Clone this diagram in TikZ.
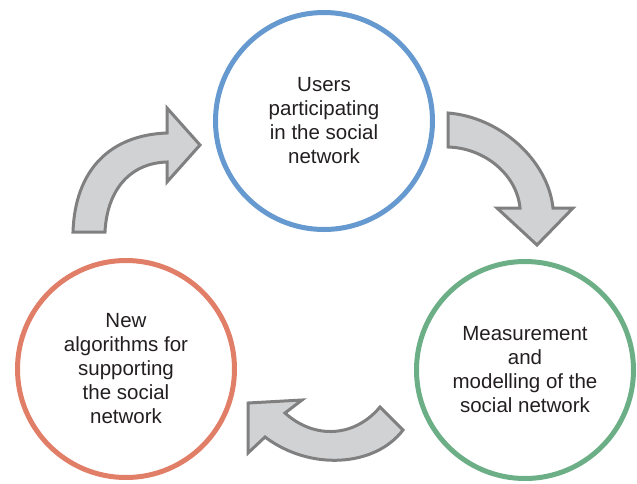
\documentclass[tikz,border=0pt]{standalone}
\usepackage{fontspec}
\setmainfont{Liberation Sans}
\usetikzlibrary{positioning}

\definecolor{userblue}{RGB}{102,153,207}
\definecolor{modelgreen}{RGB}{108,175,134}
\definecolor{algored}{RGB}{225,126,104}
\definecolor{arrowfill}{RGB}{209,210,212}
\definecolor{arrowline}{RGB}{128,128,128}
\definecolor{textdark}{RGB}{35,31,32}

\begin{document}
\begin{tikzpicture}[x=1pt, y=-1pt,
    stage/.style={circle, draw, line width=5pt, minimum size=217pt, inner sep=0pt,
        align=center, text=textdark, font=\fontsize{20.5}{24}\selectfont},
    bigarrow/.style={fill=arrowfill, draw=arrowline, line width=3pt}]
\useasboundingbox (0,0) rectangle (637,483);

% The three stages of the cycle
\node[stage, draw=userblue] (users) at (324,121) {Users\\participating\\in the social\\network};
\node[stage, draw=modelgreen] (model) at (525,370) {Measurement\\and\\modelling of the\\social network};
\node[stage, draw=algored] (algo) at (126,369) {New\\algorithms for\\supporting\\the social\\network};

% Curved block arrows between the stages
\draw[bigarrow] (448,147) -- (448,113)
    .. controls (500,117) and (548,160) .. (553,208)
    -- (573,208) -- (537,245) -- (497,208) -- (520,208)
    .. controls (517,175) and (485,148) .. (448,147) -- cycle;

\draw[bigarrow] (380,407) -- (403,430)
    .. controls (375,467) and (310,471) .. (265,437)
    -- (248,453) -- (248,403) -- (302,400) -- (285,413)
    .. controls (315,440) and (355,437) .. (380,407) -- cycle;

\draw[bigarrow] (105,232) -- (73,232)
    .. controls (75,170) and (110,135) .. (167,133)
    -- (167,108) -- (200,145) -- (167,182) -- (167,162)
    .. controls (130,163) and (107,190) .. (105,232) -- cycle;
\end{tikzpicture}
\end{document}
